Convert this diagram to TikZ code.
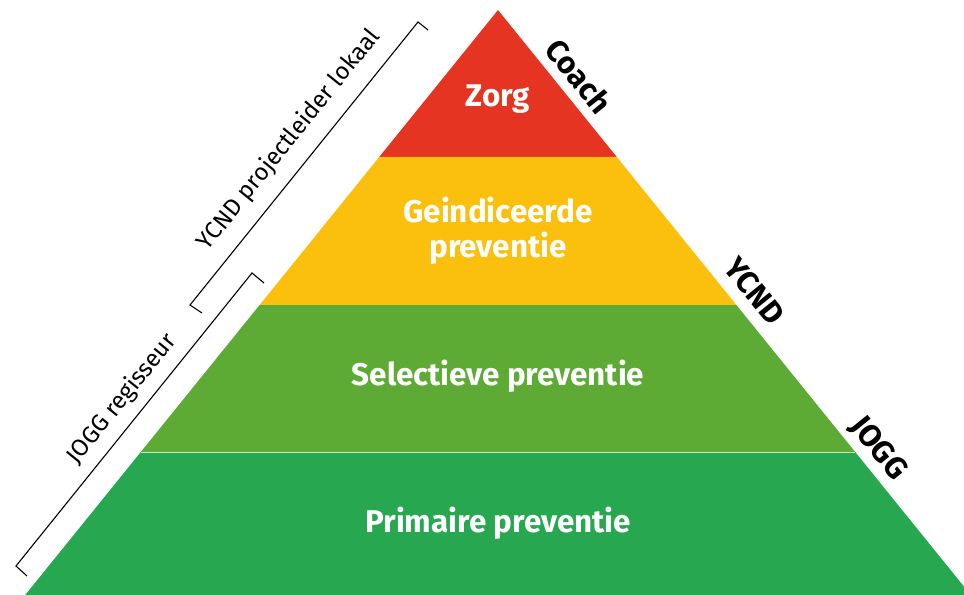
\documentclass[tikz,border=0pt]{standalone}
\usepackage{fontspec}
\setmainfont{Fira Sans}
\definecolor{cred}{HTML}{E53421}
\definecolor{cyellow}{HTML}{FBC00E}
\definecolor{clgreen}{HTML}{5DAA35}
\definecolor{cdgreen}{HTML}{27A74F}
\tikzset{
  layertext/.style={text=white,font=\fontsize{31.5}{36}\selectfont\bfseries,align=center,anchor=base,inner sep=0pt},
  sidelabel/.style={text=black,font=\fontsize{31}{36}\selectfont\bfseries,rotate=-51.05},
  roletext/.style={text=black,font=\fontsize{24}{28}\selectfont,rotate=51.05},
  bracket/.style={draw=black,line width=1.1bp}
}
\begin{document}
\begin{tikzpicture}[x=1bp,y=-1bp]
\useasboundingbox (0,0) rectangle (964,595);
\begin{scope}
\clip (0,0) rectangle (964,595);
\fill[cred] (498,10) -- (616.8,157) -- (379.2,157) -- cycle;
\fill[cyellow] (379.2,157) -- (616.8,157) -- (736.4,305) -- (259.6,305) -- cycle;
\fill[clgreen] (259.6,305) -- (736.4,305) -- (855.2,452) -- (140.8,452) -- cycle;
\fill[cdgreen] (140.8,452) -- (855.2,452) -- (970.8,595) -- (25.2,595) -- cycle;
\draw[white!70!clgreen,line width=0.6bp] (140.8,452) -- (855.2,452);
\end{scope}
\node[layertext] (zorg) at (498,107) {Zorg};
\node[layertext] (geind) at (498,258) {Geindiceerde\\preventie};
\node[layertext] (selec) at (498,385) {Selectieve preventie};
\node[layertext] (prim) at (498,532) {Primaire preventie};
\node[sidelabel] (coach) at (579,76) {Coach};
\node[sidelabel] (ycnd) at (755,291) {YCND};
\node[sidelabel] (jogg) at (878,449) {JOGG};
\coordinate (b1a) at (418,22);
\coordinate (b1b) at (190,305);
\coordinate (t1a) at (428,30);
\coordinate (t1b) at (202,313);
\coordinate (b2a) at (252,273);
\coordinate (b2b) at (16,566);
\coordinate (t2a) at (264,283);
\coordinate (t2b) at (27,576);
\draw[bracket] (t1a) -- (b1a) -- (b1b) -- (t1b);
\draw[bracket] (t2a) -- (b2a) -- (b2b) -- (t2b);
\node[roletext] (ycndrole) at (289,140) {YCND projectleider lokaal};
\node[roletext] (joggrole) at (122,399) {JOGG regisseur};
\end{tikzpicture}
\end{document}
